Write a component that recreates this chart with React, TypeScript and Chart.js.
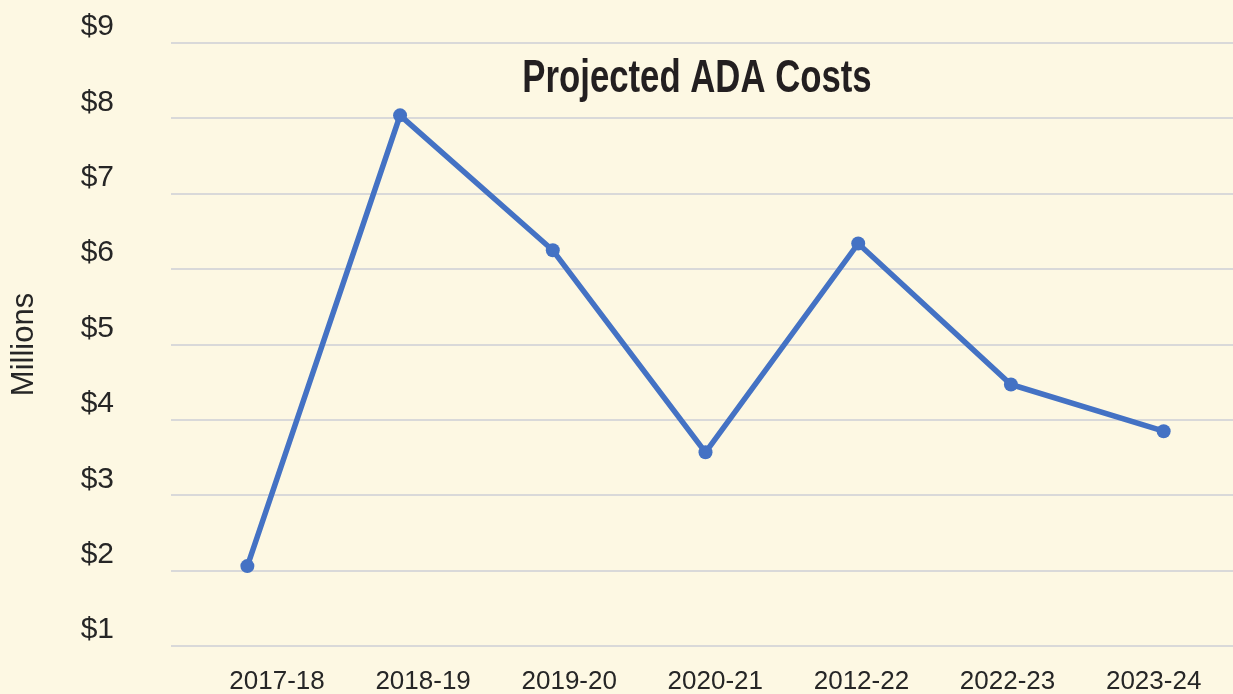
import React, { useEffect, useRef } from "react";
import { Chart, registerables } from "chart.js";

Chart.register(...registerables);

const categories = ["2017-18", "2018-19", "2019-20", "2020-21", "2012-22", "2022-23", "2023-24"];
const costs = [2.06, 8.04, 6.25, 3.57, 6.34, 4.47, 3.85];
const yTicks = [1, 2, 3, 4, 5, 6, 7, 8, 9];
const chartTitle = "Projected ADA Costs";
const yAxisTitle = "Millions";

const BG = "#FDF8E3";
const TEXT = "#262626";

const zeroPad = (s: any) => {
  s.paddingTop = 0;
  s.paddingBottom = 0;
  s.paddingLeft = 0;
  s.paddingRight = 0;
};

const titlePlugin = {
  id: "overlayTitle",
  afterDraw(chart: any) {
    const { ctx, chartArea } = chart;
    ctx.save();
    ctx.font = 'bold 46px "Liberation Sans", Arial, sans-serif';
    ctx.fillStyle = "#231F20";
    ctx.textAlign = "center";
    ctx.textBaseline = "middle";
    const cx = (chartArea.left + chartArea.right) / 2 - 8.5;
    const cy = chartArea.top + 36;
    ctx.translate(cx, cy);
    ctx.scale(0.755, 1);
    ctx.fillText(chartTitle, 0, 0);
    ctx.restore();
  },
};

export default function App() {
  const ref = useRef<HTMLCanvasElement | null>(null);

  useEffect(() => {
    if (!ref.current) return;
    const chart = new Chart(ref.current, {
      type: "line",
      data: {
        labels: categories,
        datasets: [
          {
            label: chartTitle,
            data: costs,
            borderColor: "#4472C4",
            backgroundColor: "#4472C4",
            borderWidth: 5.5,
            pointRadius: 7,
            pointHoverRadius: 7,
            pointBackgroundColor: "#4472C4",
            pointBorderColor: "#4472C4",
            pointBorderWidth: 0,
            tension: 0,
            fill: false,
          },
        ],
      },
      options: {
        animation: false,
        responsive: true,
        maintainAspectRatio: false,
        layout: { autoPadding: false, padding: { top: 43, left: 0, right: 0, bottom: 0 } },
        plugins: {
          legend: { display: false },
          title: { display: false },
          tooltip: { enabled: false },
        },
        scales: {
          x: {
            type: "category",
            display: false,
            offset: true,
            afterFit: zeroPad,
          },
          x2: {
            type: "linear",
            position: "bottom",
            min: -0.7255,
            max: 6.591,
            grid: { display: false, drawTicks: false },
            border: { display: false },
            afterFit: (s: any) => {
              s.height = 48;
              zeroPad(s);
            },
            ticks: {
              stepSize: 1,
              includeBounds: false,
              autoSkip: false,
              maxRotation: 0,
              padding: 20,
              color: TEXT,
              font: { family: '"Liberation Sans", Arial, sans-serif', size: 26 },
              callback: (v: any) => {
                const n = Number(v);
                return Number.isInteger(n) && n >= 0 && n < categories.length ? categories[n] : "";
              },
            },
          },
          y: {
            min: yTicks[0],
            max: yTicks[yTicks.length - 1],
            afterFit: (s: any) => {
              s.width = 171;
              zeroPad(s);
            },
            afterBuildTicks: (s: any) => {
              s.ticks = yTicks.map((v) => ({ value: v }));
            },
            grid: { color: "#D9D9D9", lineWidth: 2, drawTicks: false },
            border: { display: false },
            title: {
              display: true,
              text: yAxisTitle,
              color: TEXT,
              font: { family: '"Liberation Sans", Arial, sans-serif', size: 31 },
              padding: { top: 6, bottom: 0 },
            },
            ticks: {
              padding: 57,
              labelOffset: -16,
              color: TEXT,
              font: { family: '"Liberation Sans", Arial, sans-serif', size: 30 },
              callback: (v: any) => "$" + v,
            },
          },
        },
      },
      plugins: [titlePlugin],
    });
    return () => chart.destroy();
  }, []);

  return (
    <div
      style={{
        position: "fixed",
        left: 0,
        top: 0,
        width: 1233,
        height: 694,
        overflow: "hidden",
        background: BG,
      }}
    >
      <div style={{ position: "relative", width: 1240, height: 694 }}>
        <canvas ref={ref} />
      </div>
    </div>
  );
}
